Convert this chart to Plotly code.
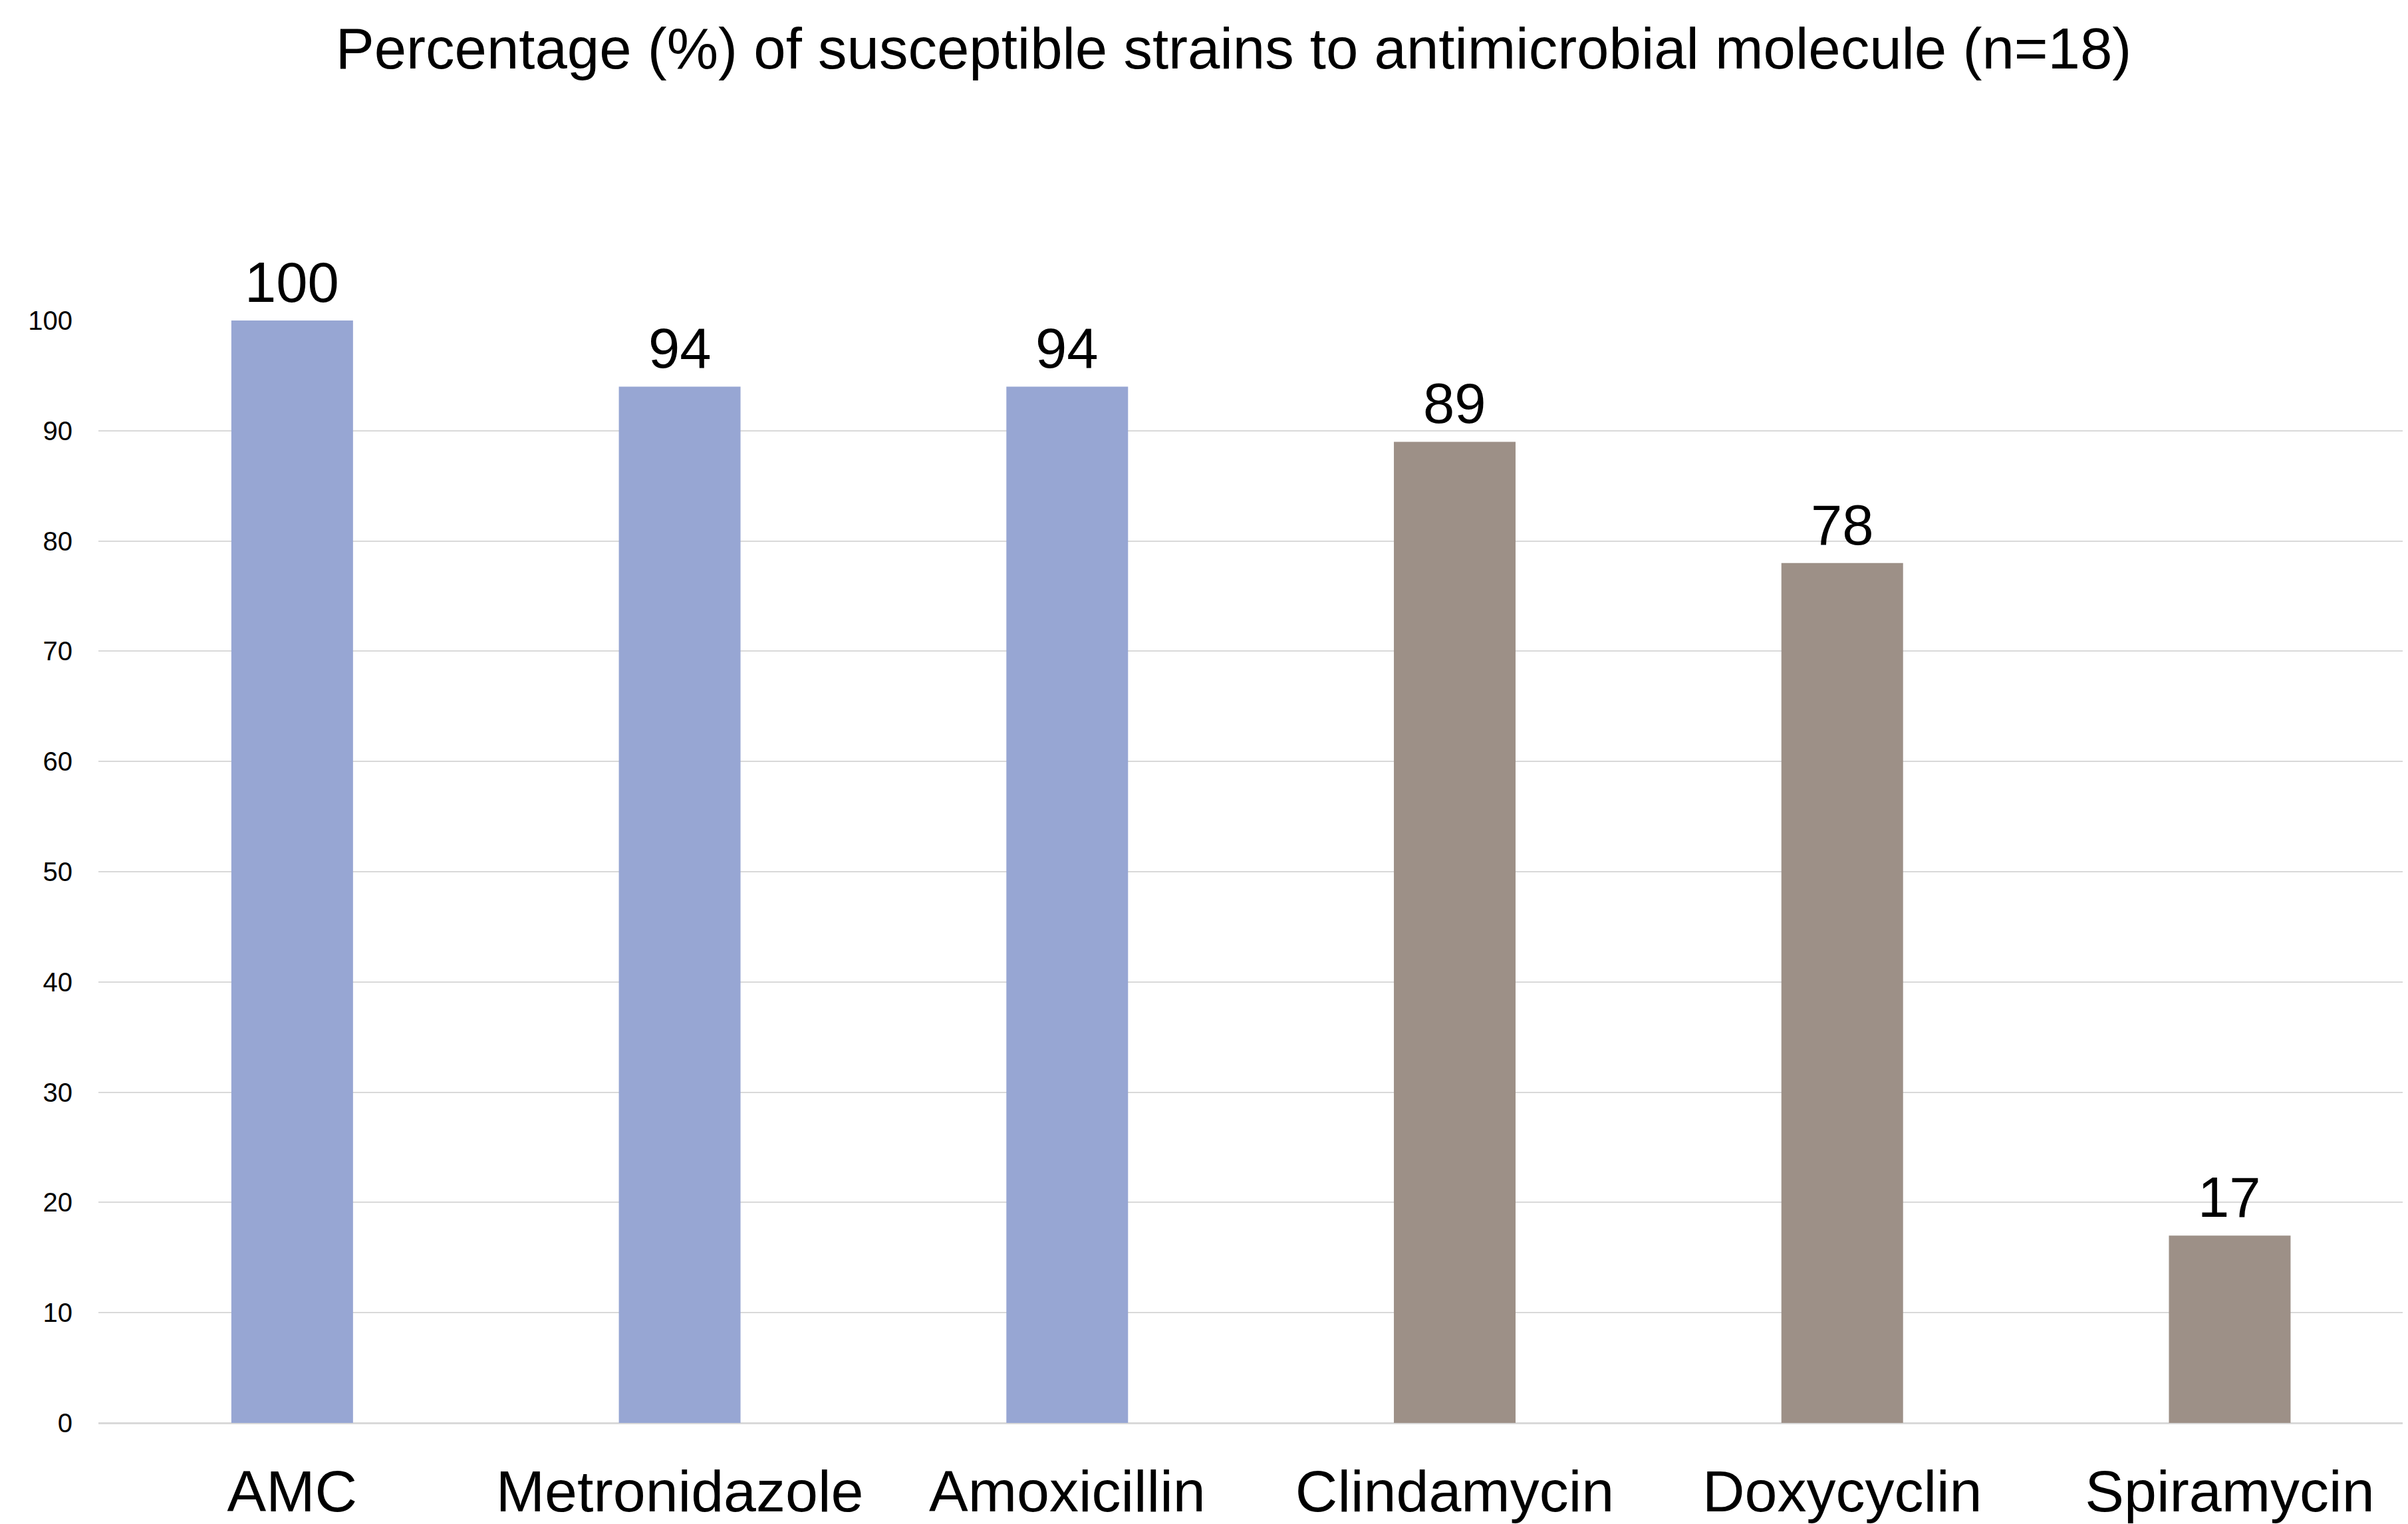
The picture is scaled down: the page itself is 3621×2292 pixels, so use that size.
import plotly.graph_objects as go

categories = ["AMC", "Metronidazole", "Amoxicillin", "Clindamycin", "Doxycyclin", "Spiramycin"]
values = [100, 94, 94, 89, 78, 17]
bar_colors = ["#97a6d3", "#97a6d3", "#97a6d3", "#9d9087", "#9d9087", "#9d9087"]
y_ticks = [0, 10, 20, 30, 40, 50, 60, 70, 80, 90, 100]

OFF = 8  # page body margin
W, H = 3621 - OFF, 2292 - OFF
FONT = "Liberation Sans, Arial, sans-serif"

fig = go.Figure(
    go.Bar(
        x=categories,
        y=values,
        marker=dict(color=bar_colors, line=dict(width=0)),
        width=0.314,
        cliponaxis=False,
    )
)

for c, v in zip(categories, values):
    fig.add_annotation(
        x=c, y=v, xref="x", yref="y",
        text=str(v), showarrow=False,
        xanchor="center", yanchor="bottom", yshift=8,
        font=dict(size=85, color="black", family=FONT),
    )

fig.update_layout(
    width=W,
    height=H,
    margin=dict(l=148 - OFF, r=0, t=482 - OFF, b=147, pad=0),
    paper_bgcolor="white",
    plot_bgcolor="white",
    showlegend=False,
    font=dict(family=FONT, color="black"),
    title=dict(
        text="Percentage (%) of susceptible strains to antimicrobial molecule (n=18)",
        font=dict(size=87, color="black", family=FONT),
        x=(1855 - OFF) / W,
        xref="container",
        xanchor="center",
        y=1 - (73 - OFF) / H,
        yref="container",
        yanchor="middle",
    ),
    xaxis=dict(
        range=[-0.5, 5.46],
        showgrid=False,
        showline=False,
        zeroline=False,
        ticks="",
        tickfont=dict(size=88, color="black", family=FONT),
        ticklabelstandoff=44,
    ),
    yaxis=dict(
        range=[0, 100],
        tickvals=y_ticks,
        ticktext=[str(t) for t in y_ticks],
        showgrid=True,
        gridcolor="#d9d9d9",
        gridwidth=2,
        zeroline=True,
        zerolinecolor="#d9d9d9",
        zerolinewidth=3,
        showline=False,
        ticks="",
        tickfont=dict(size=40, color="black", family=FONT),
        ticklabelstandoff=38,
    ),
)

fig.write_html("out.html")
